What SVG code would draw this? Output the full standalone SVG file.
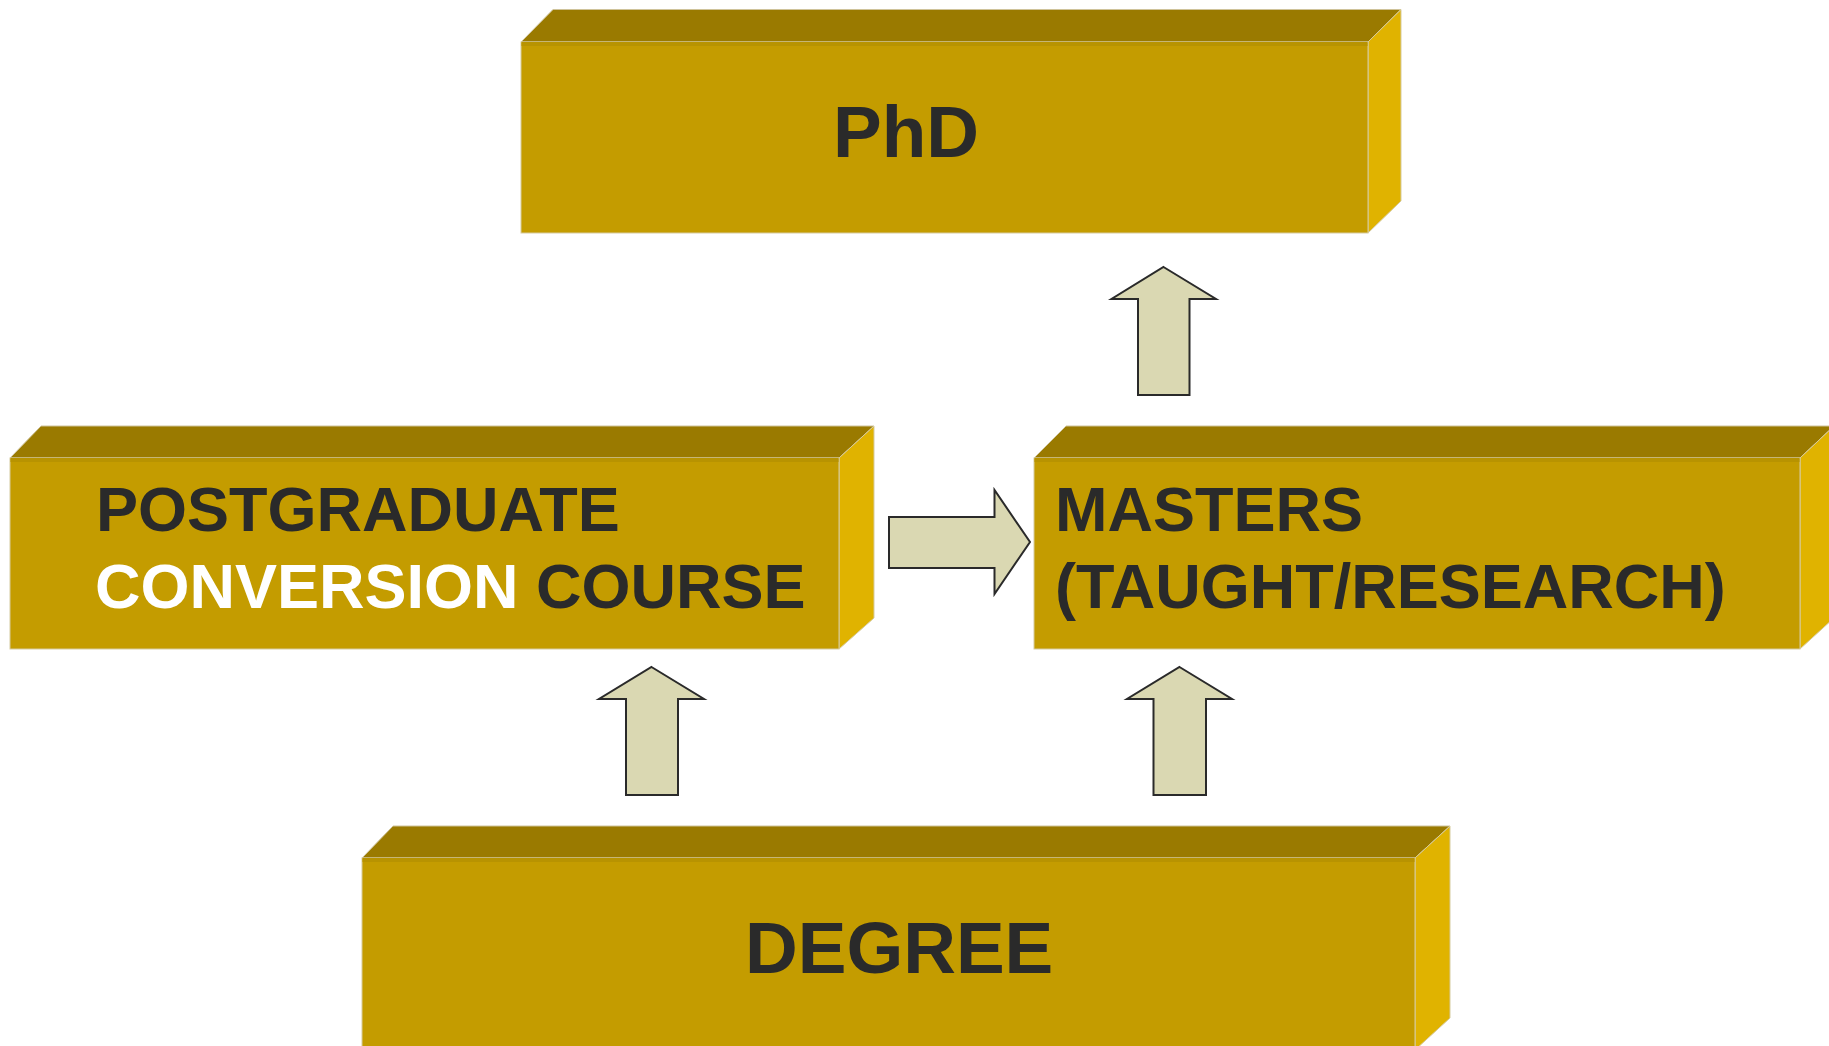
<svg xmlns="http://www.w3.org/2000/svg" width="1829" height="1046" viewBox="0 0 1829 1046">
<style>
.top{fill:#9A7A00;stroke:#CFC39A;stroke-width:1}
.front{fill:#C49C00;stroke:#D6CBA0;stroke-width:1}
.band{fill:#B89300}
.side{fill:#E0B300;stroke:#D6CBA0;stroke-width:1}
.lbl{font-family:"Liberation Sans",Arial,sans-serif;font-weight:bold;fill:#2A2A2A}
.white{fill:#FFFFFF}
.arrow{fill:#DAD8B2;stroke:#2A2A2A;stroke-width:2;stroke-linejoin:miter}
</style>
<rect width="1829" height="1046" fill="#FFFFFF"/>
<g id="phd">
<polygon class="top" points="521,42 553,9.5 1401,9.5 1368,42"/>
<polygon class="side" points="1368,42 1401,9.5 1401,201 1368,233"/>
<rect class="front" x="521" y="42" width="847" height="191"/>
<rect class="band" x="521.5" y="42" width="846" height="4"/>
<text class="lbl" x="833" y="157" font-size="73">PhD</text>
</g>
<g id="postgrad">
<polygon class="top" points="10,458 41,426 874,426 839,458"/>
<polygon class="side" points="839,458 874,426 874,618 839,649"/>
<rect class="front" x="10" y="458" width="829" height="191"/>
<rect class="band" x="10.5" y="458" width="828" height="4"/>
<text class="lbl" x="96" y="531" font-size="63">POSTGRADUATE</text>
<text class="lbl" x="95" y="608" font-size="63"><tspan class="white">CONVERSION</tspan> COURSE</text>
</g>
<g id="masters">
<polygon class="top" points="1034,458 1066,426 1834,426 1800,458"/>
<polygon class="side" points="1800,458 1834,426 1834,618 1800,649"/>
<rect class="front" x="1034" y="458" width="766" height="191"/>
<rect class="band" x="1034.5" y="458" width="765" height="4"/>
<text class="lbl" x="1055" y="531" font-size="63">MASTERS</text>
<text class="lbl" x="1055" y="608" font-size="63">(TAUGHT/RESEARCH)</text>
</g>
<g id="degree">
<polygon class="top" points="362,858 393,826 1450,826 1415,858"/>
<polygon class="side" points="1415,858 1450,826 1450,1018 1415,1050"/>
<rect class="front" x="362" y="858" width="1053" height="200"/>
<rect class="band" x="362.5" y="858" width="1052" height="4"/>
<text class="lbl" x="745" y="973" font-size="73">DEGREE</text>
</g>
<g id="connectors">
<polygon class="arrow" points="1163.5,267 1216,299 1189.5,299 1189.5,395 1138,395 1138,299 1111.5,299"/>
<polygon class="arrow" points="889,517 994.5,517 994.5,490 1030,542 994.5,594 994.5,568 889,568"/>
<polygon class="arrow" points="651.5,667 704,699 678,699 678,795 626,795 626,699 599,699"/>
<polygon class="arrow" points="1179.5,667 1232,699 1206,699 1206,795 1153.5,795 1153.5,699 1127,699"/>
</g>
</svg>
